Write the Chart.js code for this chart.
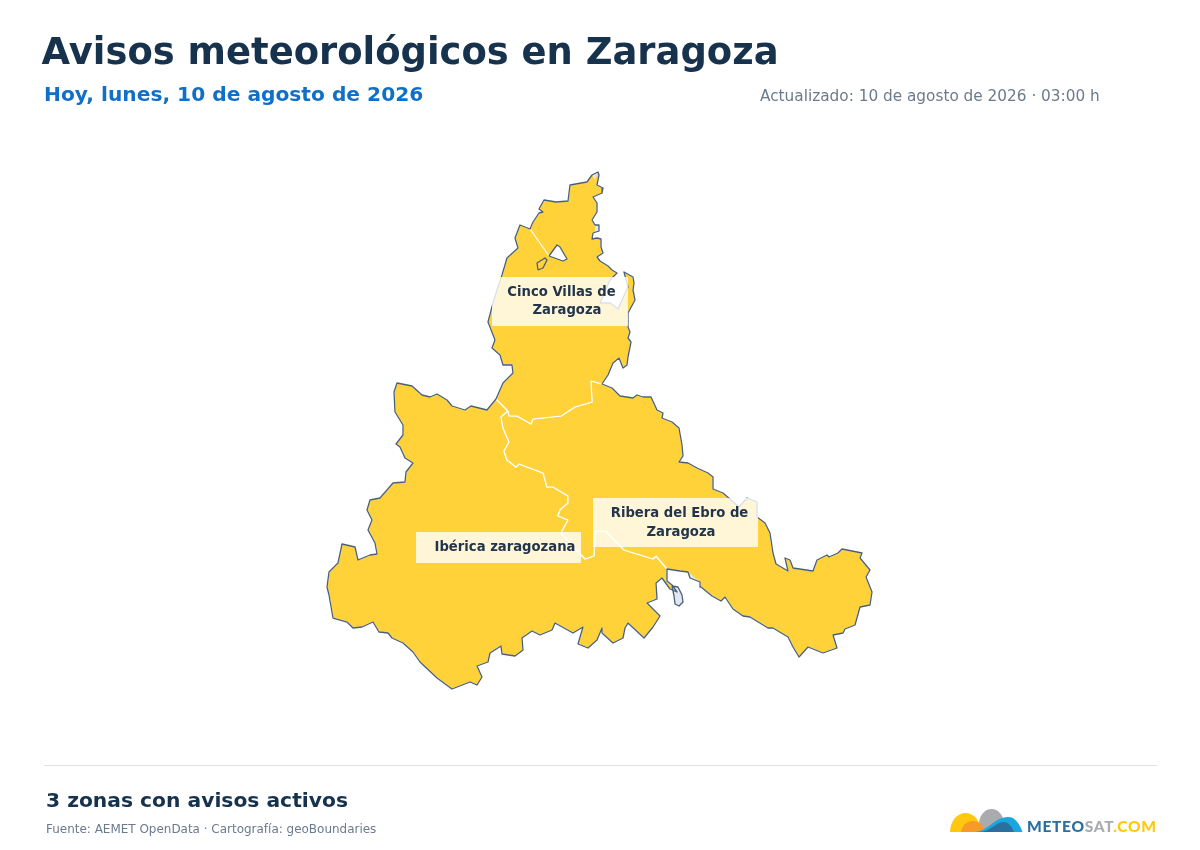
<!DOCTYPE html>
<html lang="es"><head><meta charset="utf-8">
<script src="https://cdn.jsdelivr.net/npm/chart.js@4"></script>
<style>
html,body{margin:0;padding:0;background:#fff;width:1200px;height:850px;overflow:hidden;font-family:"DejaVu Sans",sans-serif}
canvas{position:absolute;left:0;top:0}
.t{position:absolute;white-space:nowrap;line-height:1}
#rule{position:absolute;left:44px;top:765px;width:1113px;height:1px;background:#dfe3e8}
#logo{position:absolute;left:940px;top:800px}
</style></head><body>
<canvas id="map" width="1200" height="850"></canvas>
<div class="t" style="left:41.5px;top:33.5px;font-size:36.9px;font-weight:700;color:#17324d">Avisos meteorológicos en Zaragoza</div>
<div class="t" style="left:44px;top:84px;font-size:20.2px;font-weight:700;color:#1070c8">Hoy, lunes, 10 de agosto de 2026</div>
<div class="t" style="left:760px;top:88.5px;font-size:15.3px;color:#6b7a8c">Actualizado: 10 de agosto de 2026 · 03:00 h</div>
<div id="rule"></div>
<div class="t" style="left:46px;top:790px;font-size:20.27px;font-weight:700;color:#17324d">3 zonas con avisos activos</div>
<div class="t" style="left:46px;top:824px;font-size:11.97px;color:#6b7a8c">Fuente: AEMET OpenData · Cartografía: geoBoundaries</div>
<svg id="logo" width="230" height="40" viewBox="940 800 230 40">
<defs><clipPath id="c"><rect x="940" y="800" width="230" height="32"/></clipPath></defs>
<g clip-path="url(#c)">
<ellipse cx="991.5" cy="824" rx="12.5" ry="15" fill="#a9abae"/>
<ellipse cx="965.5" cy="832" rx="15.5" ry="19" fill="#ffc80f"/>
<ellipse cx="973" cy="833" rx="12" ry="12" fill="#f79a26"/>
<path d="M974 832C988 832 994 817 1008 817C1016 817 1020 825 1022.5 832Z" fill="#1ca6df"/>
<path d="M980 832C990 832 996 822 1003 822C1009 822 1012 827 1014 832Z" fill="#2a6f9e"/>
</g>
<text x="1027" y="832" font-family="Lato" font-weight="900" font-size="15.5" textLength="129" lengthAdjust="spacing"><tspan fill="#2a6f9e">METEO</tspan><tspan fill="#a9abae">SAT</tspan><tspan fill="#ffc80f">.COM</tspan></text>
</svg>
<script>
// Map grid readings, [east, south] along each boundary piece
const cincoVillasOuter = [[496,399],[503,383],[513,373],[512,365],[503,365],[500,355],[492,348],[495,340],[488,322],[493,303],[497,290],[502,275],[507,258],[518,248],[515,238],[520,225],[530,229],[533,222],[539,213],[543,212],[539,209],[544,200],[556,202],[568,201],[570,185],[587,182],[592,175],[598,172],[599,175],[597,185],[603,188],[602,193],[593,197],[597,203],[597,212],[592,220],[595,225],[599,225],[599,231],[593,233],[592,239],[597,238],[601,239],[601,247],[603,253],[597,257],[600,261],[608,266],[612,270],[617,273],[610,280],[600,303],[610,303],[618,309],[623,298],[628,287],[624,272],[633,277],[634,283],[633,290],[635,300],[628,313],[628,327],[630,332],[628,338],[631,342],[628,357],[627,365],[623,368],[619,358],[613,363],[608,375],[602,384]];
const riberaOuter = [[602,384],[612,388],[620,396],[633,398],[637,395],[643,397],[651,397],[657,410],[663,413],[662,418],[672,422],[679,428],[682,445],[683,456],[679,462],[688,463],[697,468],[708,473],[713,477],[713,489],[723,493],[739,507],[747,498],[757,502],[757,517],[765,523],[770,533],[773,553],[776,564],[788,571],[785,558],[790,560],[793,568],[813,571],[817,560],[827,555],[829,557],[838,553],[842,549],[862,553],[860,558],[870,570],[866,577],[872,592],[870,605],[860,607],[855,625],[845,629],[843,633],[833,635],[837,648],[823,653],[808,647],[799,657],[793,647],[788,637],[773,628],[768,628],[750,617],[743,616],[733,609],[725,597],[721,601],[712,596],[701,587],[700,582],[690,578],[688,572],[680,571],[667,569]];
const ibericaOuter = [[667,569],[667,581],[672,585],[677,592],[670,589],[662,578],[656,583],[657,599],[647,603],[660,616],[653,627],[644,638],[628,623],[625,628],[623,638],[613,643],[602,633],[602,628],[597,640],[588,648],[578,644],[583,627],[573,633],[555,623],[552,630],[540,635],[532,631],[522,638],[523,650],[515,656],[502,654],[501,646],[490,653],[488,662],[477,666],[482,677],[477,685],[470,682],[452,689],[437,678],[420,662],[413,652],[403,643],[392,638],[388,633],[379,632],[373,622],[362,627],[353,628],[347,622],[333,618],[329,595],[327,587],[329,572],[338,563],[342,544],[355,547],[358,560],[370,555],[377,554],[375,543],[368,530],[372,520],[367,510],[370,500],[380,498],[393,483],[405,482],[406,472],[413,463],[405,458],[400,447],[396,444],[403,435],[403,425],[395,412],[394,392],[397,383],[412,386],[422,395],[430,397],[437,394],[447,400],[452,406],[465,410],[471,406],[487,410],[496,399]];
const sharedCincoIberica = [[496,399],[508,411]];
const sharedCincoRibera = [[508,411],[509,416],[517,416],[531,424],[533,419],[561,416],[575,407],[592,402],[591,381],[602,384]];
const sharedRiberaIberica = [[508,411],[501,417],[503,428],[509,442],[504,451],[507,460],[516,467],[519,464],[543,473],[547,487],[553,487],[568,496],[568,503],[560,510],[558,516],[568,520],[561,533],[585,559],[594,556],[595,531],[606,531],[624,550],[653,559],[656,556],[667,569]];
const whiteEnclave = [[549,256],[557,245],[560,247],[567,259],[563,261]];
const whiteSeam = [[530,229],[549,256]];
const smallEnclave = [[538,270],[537,263],[545,258],[547,260],[543,268],[538,270]];
const greyEnclave = [[672,586],[678,587],[682,595],[683,602],[679,606],[675,604],[674,596]];
const greyPatchTop = [[592,175],[598,172],[595,180]];
const greyPatchEast = [[595,225],[599,225],[599,231],[595,232]];
const greyPatchSouth = [[688,572],[700,582],[690,578]];
const zoneLabels = [
  {lines:[["Cinco Villas de",561.5,292.5],["Zaragoza",567,311]],box:[492,277,628,326]},
  {lines:[["Ribera del Ebro de",679.5,514],["Zaragoza",681,532.5]],box:[593,498,758,547]},
  {lines:[["Ibérica zaragozana",505,548]],box:[416,532,581,563]}
];
const YELLOW="#ffd23a", OUTLINE="#4a5f78", GREY="#e2e6ee";
const rev=a=>a.slice().reverse();
const pts=a=>a.map(p=>({x:p[0],y:p[1]}));
const cincoRing=[...cincoVillasOuter,...rev(sharedCincoRibera),...rev(sharedCincoIberica)];
const riberaRing=[...riberaOuter,...rev(sharedRiberaIberica),...sharedCincoRibera];
const ibericaRing=[...ibericaOuter,...sharedCincoIberica,...sharedRiberaIberica];
const provinceRing=[...cincoVillasOuter,...riberaOuter,...ibericaOuter];
const poly=(label,data,fill,stroke,width,order)=>({label,data:pts(data),showLine:true,pointRadius:0,polygonFill:fill,borderColor:stroke,borderWidth:width,order,tension:0,borderJoinStyle:"round",clip:false});
const polygonFill={id:"polygonFill",beforeDatasetDraw(chart,args){
  const ds=chart.data.datasets[args.index]; if(!ds.polygonFill)return;
  const c=chart.ctx; c.save(); c.beginPath();
  args.meta.data.forEach((p,i)=>i?c.lineTo(p.x,p.y):c.moveTo(p.x,p.y));
  c.closePath(); c.fillStyle=ds.polygonFill; c.fill(); c.restore();
}};
const labelsPlugin={id:"zoneLabels",afterDatasetsDraw(chart){
  const c=chart.ctx,X=chart.scales.x,Y=chart.scales.y; c.save();
  zoneLabels.forEach(l=>{
    const x0=X.getPixelForValue(l.box[0]),y0=Y.getPixelForValue(l.box[1]),x1=X.getPixelForValue(l.box[2]),y1=Y.getPixelForValue(l.box[3]);
    c.fillStyle="rgba(255,255,255,0.8)"; c.fillRect(x0,y0,x1-x0,y1-y0);
    c.fillStyle="#22354a"; c.font='700 13.2px "DejaVu Sans"'; c.textAlign="center"; c.textBaseline="middle";
    l.lines.forEach(t=>c.fillText(t[0],X.getPixelForValue(t[1]),Y.getPixelForValue(t[2])));
  }); c.restore();
}};
new Chart(document.getElementById("map"),{
  type:"scatter",
  data:{datasets:[
    poly("Cinco Villas de Zaragoza",cincoRing,YELLOW,"#ffffff",1.2,40),
    poly("Ribera del Ebro de Zaragoza",riberaRing,YELLOW,"#ffffff",1.2,41),
    poly("Ibérica zaragozana",ibericaRing,YELLOW,"#ffffff",1.2,42),
    poly("seam",whiteSeam,null,"#ffffff",1.2,35),
    poly("enclave",[...whiteEnclave,whiteEnclave[0]],"#ffffff",OUTLINE,1.3,30),
    poly("grey enclave",[...greyEnclave,greyEnclave[0]],GREY,OUTLINE,1.3,30),
    poly("grey top",greyPatchTop,GREY,GREY,0,32),
    poly("grey east",greyPatchEast,GREY,GREY,0,32),
    poly("grey south",greyPatchSouth,GREY,GREY,0,32),
    poly("small enclave",smallEnclave,null,OUTLINE,1.3,30),
    poly("outline",[...provinceRing,provinceRing[0]],null,OUTLINE,1.3,20)
  ]},
  options:{responsive:false,animation:false,devicePixelRatio:1,
    layout:{padding:0},
    plugins:{legend:{display:false},tooltip:{enabled:false},title:{display:false}},
    scales:{x:{type:"linear",min:0,max:1200,display:false},y:{type:"linear",min:0,max:850,reverse:true,display:false}}
  },
  plugins:[polygonFill,labelsPlugin]
});
</script>
</body></html>
